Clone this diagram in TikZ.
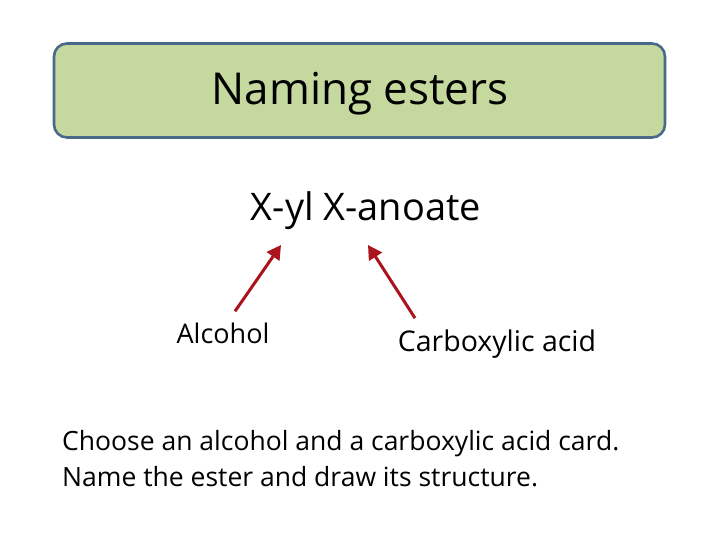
\documentclass[tikz,border=0pt]{standalone}
\usepackage{fontspec}
\setmainfont{Open Sans}
\usetikzlibrary{positioning, arrows.meta}
\definecolor{boxgreen}{RGB}{197,216,158}
\definecolor{boxblue}{RGB}{74,104,136}
\definecolor{arrowred}{RGB}{170,20,28}

\begin{document}
\begin{tikzpicture}[x=1pt, y=-1pt,
  titlebox/.style={draw=boxblue, fill=boxgreen, line width=2.6pt, rounded corners=13pt,
    minimum width=611pt, minimum height=94pt, inner sep=0pt},
  part/.style={inner sep=0pt, anchor=base},
  redarrow/.style={draw=arrowred, line width=3pt, -{Triangle[length=14pt, width=15pt]}}]
  \useasboundingbox (0,0) rectangle (720,540);

  \node[titlebox] (title) at (359.5,90.5) {};
  \node[part, font=\fontsize{44}{50}\selectfont] (titletext) at (360,105) {Naming esters};

  \node[part, font=\fontsize{38}{44}\selectfont] (formula) at (366,221) {X-yl X-anoate};

  \node[part, font=\fontsize{27}{32}\selectfont] (alc) at (223,343) {Alcohol};
  \node[part, font=\fontsize{28.5}{34}\selectfont] (acid) at (497,351) {Carboxylic acid};

  \node[inner sep=0pt, anchor=north west, align=left, font=\fontsize{26.5}{36.5}\selectfont]
    (task) at (62,430) {Choose an alcohol and a carboxylic acid card.\\
    Name the ester and draw its structure.};

  \coordinate (alctip) at (281,245);
  \coordinate (acidtip) at (368,245);
  \draw[redarrow] ([xshift=12pt, yshift=11pt]alc.north) -- (alctip);
  \draw[redarrow] ([xshift=-82pt, yshift=11pt]acid.north) -- (acidtip);
\end{tikzpicture}
\end{document}
